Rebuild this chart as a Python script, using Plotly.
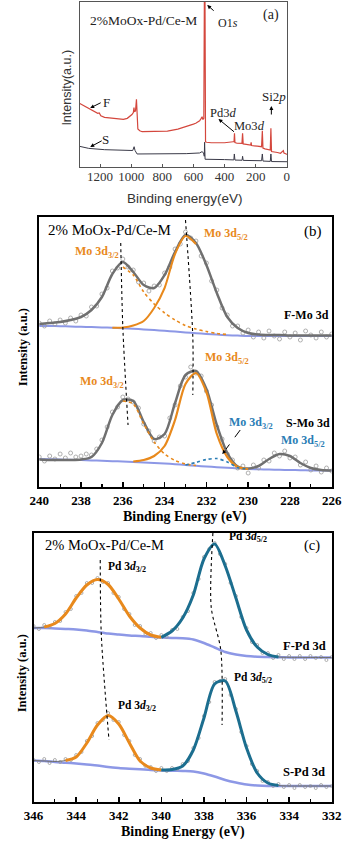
import numpy as np
import plotly.graph_objects as go

W, H = 354, 841
SERIF = "Liberation Serif, Times New Roman, serif"
SANS = "Liberation Sans, Arial, sans-serif"

RED = "#d4473d"
DARK = "#3a3a48"
ORANGE = "#e8891c"
TEAL = "#1c6e8f"
BLUE = "#2a7db5"
BG = "#8d98e6"
ENV = "#707070"
RAW = "#9c9c9c"

# ---------------- (a) survey ----------------
f_ev = [1330, 1300, 1273, 1250, 1232, 1215, 1205, 1195, 1171, 1140, 1111, 1080, 1050, 1025,
        1010, 995, 986, 982, 979, 972, 966, 962, 957, 945, 929, 850, 767, 700, 646, 600,
        585, 560, 550, 544, 540, 533, 529, 526, 522, 515, 485, 400, 345, 339, 336, 333,
        320, 288, 284, 280, 271, 232, 229, 226, 190, 162, 157, 153, 140, 106, 102, 98,
        60, 40, 22, 18, 0, -4]
f_cps = [38.5, 37, 35.6, 34.5, 33.5, 32.5, 32.8, 31, 30.1, 29.8, 29.5, 29.2, 28.9, 29.5,
         30.5, 31.8, 33, 36, 33.5, 34, 41, 34, 23, 22, 21.4, 21.6, 21.8, 23, 24.4, 26,
         26.5, 28, 29.5, 30.5, 28.8, 29.5, 115, 115, 15.3, 15, 14.7, 14.7, 15.3, 15.3, 20.4, 14.8,
         14.4, 14.3, 20.4, 14, 13.9, 13.3, 15, 13, 12.6, 12.3, 22, 11.5, 11, 10.3, 23.4, 9.4,
         8.8, 8.3, 9.9, 8.4, 7.7, 7.6]
s_ev = [1330, 1273, 1171, 1050, 990, 981, 975, 962, 900, 767, 646, 560, 545, 535, 530, 528,
        525, 400, 340, 337, 333, 287, 284, 280, 162, 157, 153, 106, 102, 98, -4]
s_cps = [12.5, 11.3, 10.5, 10.2, 10, 12.3, 10, 7.9, 7.9, 7.9, 8.1, 8.5, 9.3, 8.6, 6.5, 15,
         4.7, 4.5, 4.3, 7.9, 4.2, 4.1, 6.5, 4.0, 3.8, 7.9, 3.6, 3.4, 7.9, 3.3, 3.2]

# ---------------- (b) Mo 3d ----------------
mo_ev = np.linspace(240, 226, 29)
mo_raw_ev = np.linspace(240, 226, 57)

f_mo_bg = [161, 161, 160.8, 160.5, 160.2, 160, 159.6, 159.2, 158.8, 158.3, 157.6, 157, 156.2,
           155.4, 154.6, 153.8, 153, 152.4, 151.8, 151.4, 151, 151, 151, 151, 151, 151, 151, 151, 151]
f_mo_env = [163, 164, 165, 167, 170, 177, 190, 213, 225, 215, 202, 199, 212, 235, 252, 244,
            222, 194, 170, 159, 154, 152.5, 152, 152, 151.5, 151.5, 151.5, 151.5, 151.5]
f_mo_raw = [164, 161, 166, 163, 167, 164, 169, 166, 172, 171,
            180, 181, 193, 199, 216, 219, 228, 220, 217, 205,
            204, 196, 201, 202, 214, 220, 238, 243, 255, 249,
            246, 231, 224, 206, 197, 179, 172, 161, 161, 154,
            157, 150, 155, 149, 156, 151, 148, 155, 150, 154,
            147, 156, 152, 149, 155, 150, 153]
f_mo32_ev = [236, 235.5, 235, 234.5, 234, 233.5, 233, 232.5, 232, 231.5, 231]
f_mo32 = [220, 212, 195, 183, 174, 167, 161.5, 158, 155.5, 153.5, 152.5]
f_mo52_ev = [236.5, 236, 235.5, 235, 234.5, 234, 233.5, 233, 232.5]
f_mo52 = [159.2, 159.5, 161.5, 166, 179, 199, 233, 251, 243]

s_mo_bg = [28, 27.8, 27.5, 27.2, 27, 26.6, 26.2, 25.8, 25.5, 25, 24.5, 24, 23.5, 22.8, 22,
           21.2, 20.5, 19.8, 19.2, 18.6, 18, 17.7, 17.4, 17.2, 17, 16.8, 16.6, 16.5, 16.4]
s_mo_env = [27.5, 27, 27, 27, 27.5, 30, 44, 72, 87, 86, 65, 48, 53, 84, 112, 116, 98, 62,
            34, 20.5, 18.5, 21, 28, 33, 31, 24, 19, 17, 16.5]
s_mo_raw = [30, 26, 31, 28, 33, 29, 34, 30, 31, 33,
            32, 38, 47, 60, 75, 80, 90, 88, 85, 79,
            63, 56, 46, 50, 51, 69, 82, 101, 110, 120,
            114, 111, 96, 82, 60, 48, 33, 27, 19, 21,
            14, 22, 19, 27, 26, 34, 31, 36, 29, 30,
            22, 25, 17, 21, 15, 19, 16]
s_mo52_ev = [235.5, 235, 234.5, 234, 233.5, 233, 232.5, 232, 231.5, 231, 230.5, 230]
s_mo52 = [25.5, 27, 31, 41, 67, 103, 114, 95, 53, 30, 20, 18]
s_mo32_ev = [236, 235.5, 235, 234.5, 234, 233.5, 233, 232.5]
s_mo32 = [86, 83, 63, 45, 33, 26.5, 23, 21.5]
s_mo_sub_ev = [233, 232.5, 232, 231.5, 231, 230.5, 230]
s_mo_sub = [22, 24.5, 27.5, 28.5, 25, 19.5, 18]

guide_b1_ev = [236.1, 236.0, 235.75]
guide_b1 = [244, 160, 62]
guide_b2_ev = [233.0, 232.65, 232.65]
guide_b2 = [267, 150, 92]

# ---------------- (c) Pd 3d ----------------
pd_ev = np.linspace(346, 332, 29)
pd_raw_ev = np.linspace(346, 332, 57)

f_pd_bg = [174, 174, 173.5, 173, 172.5, 171.5, 170, 168.5, 167.5, 166.5, 166, 165.2, 164.5,
           164, 163.7, 162.5, 159, 154.5, 150, 147.5, 146, 145.3, 145, 144.7, 144.6, 144.5,
           144.5, 144.5, 144.5]
f_pd_env = [174, 175, 178.5, 188, 204, 217, 222.5, 217.5, 203, 186, 174, 167, 165, 171, 184,
            207, 243, 258, 236, 204, 172, 155, 147.5, 145, 144.7, 144.6, 144.5, 144.5, 144.5]
f_pd_raw = [176, 173, 177, 175, 180, 181, 190, 193, 206, 209,
            219, 219, 224, 220, 219, 209, 205, 193, 188, 177,
            176, 168, 169, 164, 167, 165, 172, 173, 185, 191,
            209, 223, 245, 253, 259, 248, 238, 219, 206, 185,
            174, 160, 157, 149, 149, 144, 147, 143, 146, 143,
            146, 143, 146, 144, 145, 142, 145]
f_pd32_ev = [345.5, 345, 344.5, 344, 343.5, 343, 342.5, 342, 341.5, 341, 340.5, 340]
f_pd32 = [175, 178.5, 188, 204, 217, 222.5, 217.5, 203, 186, 174, 167, 164.7]
f_pd52_ev = [340, 339.5, 339, 338.5, 338, 337.5, 337, 336.5, 336, 335.5, 335, 334.5]
f_pd52 = [164.7, 171, 184, 207, 243, 258, 236, 204, 172, 155, 147.5, 145]

s_pd_bg = [41.5, 41, 40, 39.3, 38.5, 37.5, 36.5, 35, 34, 33.3, 32.7, 32, 31.6, 31.3, 31, 30.5,
           28.5, 25.5, 22, 19.5, 17.5, 16.5, 16, 16, 16, 16, 16, 16, 16]
s_pd_env = [41.5, 41, 40.5, 41.5, 45, 59, 77, 86.5, 78, 59, 41, 34, 32, 32.5, 36, 52, 84, 118,
            121, 91, 54, 29, 19, 16.5, 16, 16, 16, 16, 16]
s_pd_raw = [42, 40, 43, 39, 42, 40, 43, 42, 47, 50,
            61, 66, 79, 82, 89, 82, 80, 67, 61, 47,
            43, 36, 35, 31, 34, 31, 34, 33, 38, 41,
            54, 64, 86, 100, 120, 121, 123, 107, 93, 70,
            56, 38, 31, 21, 20, 16, 18, 15, 17, 14,
            17, 15, 16, 14, 17, 15, 16]
s_pd32_ev = [344.5, 344, 343.5, 343, 342.5, 342, 341.5, 341, 340.5, 340]
s_pd32 = [41.5, 45, 59, 77, 86.5, 78, 59, 41, 34, 32]
s_pd52_ev = [340, 339.5, 339, 338.5, 338, 337.5, 337, 336.5, 336, 335.5, 335, 334.5]
s_pd52 = [32, 32.5, 36, 52, 84, 118, 121, 91, 54, 29, 19, 16.5]

guide_c1_ev = [342.87, 342.82, 342.46]
guide_c1 = [242, 167, 62]
guide_c2_ev = [337.58, 337.66, 337.21, 337.15]
guide_c2 = [269, 195, 152, 77]


def px(x):
    return x / W


def py(y):
    return 1 - y / H


fig = go.Figure()


def line(x, y, color, width, ax, dash=None, spline=True):
    fig.add_trace(go.Scatter(
        x=x, y=y, mode="lines", xaxis=ax[0], yaxis=ax[1],
        line=dict(color=color, width=width, dash=dash,
                  shape="spline" if spline else "linear", smoothing=0.8),
        hoverinfo="skip"))


def dots(x, y, size, ax):
    fig.add_trace(go.Scatter(
        x=x, y=y, mode="markers", xaxis=ax[0], yaxis=ax[1],
        marker=dict(symbol="circle-open", size=size, color=RAW, line=dict(width=0.8)),
        hoverinfo="skip"))


A = ("x", "y")
B = ("x2", "y2")
C = ("x3", "y3")

# (a)
line(s_ev, s_cps, DARK, 1, A, spline=False)
line(f_ev, f_cps, RED, 1.2, A, spline=False)

# (b)
line(mo_ev, f_mo_bg, BG, 2, B)
line(mo_ev, s_mo_bg, BG, 2, B)
dots(mo_raw_ev, f_mo_raw, 4, B)
dots(mo_raw_ev, s_mo_raw, 4, B)
line(mo_ev, f_mo_env, ENV, 2.5, B)
line(mo_ev, s_mo_env, ENV, 2.5, B)
line(f_mo32_ev, f_mo32, ORANGE, 1.6, B, dash="dot")
line(f_mo52_ev, f_mo52, ORANGE, 2, B)
line(s_mo32_ev, s_mo32, ORANGE, 1.6, B, dash="dot")
line(s_mo52_ev, s_mo52, ORANGE, 2.2, B)
line(s_mo_sub_ev, s_mo_sub, BLUE, 1.6, B, dash="dot")
line(guide_b1_ev, guide_b1, "black", 1.1, B, dash="dot")
line(guide_b2_ev, guide_b2, "black", 1.1, B, dash="dot")

# (c)
line(pd_ev, f_pd_bg, BG, 2.5, C)
line(pd_ev, s_pd_bg, BG, 2.5, C)
dots(pd_raw_ev, f_pd_raw, 3, C)
dots(pd_raw_ev, s_pd_raw, 3, C)
line(pd_ev, f_pd_env, ENV, 1, C)
line(pd_ev, s_pd_env, ENV, 1, C)
line(f_pd32_ev, f_pd32, ORANGE, 3, C)
line(f_pd52_ev, f_pd52, TEAL, 3, C)
line(s_pd32_ev, s_pd32, ORANGE, 3, C)
line(s_pd52_ev, s_pd52, TEAL, 3, C)
line(guide_c1_ev, guide_c1, "black", 1.1, C, dash="dot")
line(guide_c2_ev, guide_c2, "black", 1.1, C, dash="dot")

# axes
xa_bold = dict(
    showline=True, mirror=True, linecolor="black", linewidth=2, showgrid=False, zeroline=False,
    ticks="inside", ticklen=5, tickwidth=1.5, tickcolor="black", dtick=2,
    minor=dict(ticks="inside", ticklen=3, tickwidth=1.2, tickcolor="black", dtick=1),
    tickfont=dict(family=SERIF, size=13, color="black", weight="bold"),
    ticklabelstandoff=0)
ya_bold = dict(showline=True, mirror=True, linecolor="black", linewidth=2, showgrid=False,
               zeroline=False, showticklabels=False, ticks="")

fig.update_layout(
    width=W, height=H, autosize=False, showlegend=False,
    margin=dict(l=0, r=0, t=0, b=0),
    paper_bgcolor="white", plot_bgcolor="white",
    xaxis=dict(domain=[px(74), px(294)], range=[1330, -4], anchor="y",
               showline=True, mirror=True, linecolor="#555", linewidth=1, showgrid=False,
               zeroline=False, ticks="inside", ticklen=3, tickcolor="#555", dtick=200,
               tickfont=dict(family=SERIF, size=13, color="#333"), ticklabelstandoff=-3),
    yaxis=dict(domain=[py(167), py(2)], range=[0, 100], anchor="x",
               showline=True, mirror=True, linecolor="#555", linewidth=1, showgrid=False,
               zeroline=False, showticklabels=False),
    xaxis2=dict(domain=[px(31), px(341)], range=[240, 226], anchor="y2", **xa_bold),
    yaxis2=dict(domain=[py(487), py(217)], range=[0, 270], anchor="x2", **ya_bold),
    xaxis3=dict(domain=[px(25), px(341)], range=[346, 332], anchor="y3", **xa_bold),
    yaxis3=dict(domain=[py(802), py(533)], range=[0, 269], anchor="x3", **ya_bold),
)

ann = []


def label(x, y, text, size, color="black", family=SERIF, bold=False, xanchor="left", angle=0):
    ann.append(dict(x=px(x), y=py(y), xref="paper", yref="paper", text=text, showarrow=False,
                    xanchor=xanchor, yanchor="middle", textangle=angle,
                    font=dict(family=family, size=size, color=color,
                              weight="bold" if bold else "normal")))


def arrow(hx, hy, tx, ty, head=2):
    ann.append(dict(x=px(hx), y=py(hy), xref="paper", yref="paper", text="", showarrow=True,
                    ax=tx - hx, ay=ty - hy, arrowhead=head, arrowsize=0.8, arrowwidth=1,
                    arrowcolor="black"))


# (a) texts
label(83, 20, "2%MoOx-Pd/Ce-M", 13.5, "#222")
label(277, 15, "(a)", 14, "#222", xanchor="center")
label(218, 23, "O1<i>s</i>", 12, "#222")
label(102, 102, "F", 13, "#222", xanchor="center")
label(101, 139, "S", 13, "#222", xanchor="center")
label(210, 113, "Pd3<i>d</i>", 12.5, "#222")
label(235, 126, "Mo3<i>d</i>", 12.5, "#222")
label(265, 97, "Si2<i>p</i>", 13, "#222")
label(185, 198, "Binding energy(eV)", 13.5, "#333", family=SANS, xanchor="center")
label(60, 88, "Intensity(a.u.)", 12.5, "#333", family=SANS, xanchor="center", angle=-90)
arrow(209, 5, 217, 12)
arrow(85, 108, 97, 102)
arrow(85, 147, 98, 140)
arrow(221, 119, 238, 133)
arrow(277, 106, 277, 116)

# (b) texts
label(38, 230, "2% MoOx-Pd/Ce-M", 15)
label(321, 231, "(b)", 15, xanchor="center")
label(67, 252, "Mo 3d<sub>3/2</sub>", 12, ORANGE, bold=True)
label(203, 234, "Mo 3d<sub>5/2</sub>", 12, ORANGE, bold=True)
label(288, 315, "F-Mo 3d", 12, bold=True)
label(205, 358, "Mo 3d<sub>5/2</sub>", 12, ORANGE, bold=True)
label(72, 382, "Mo 3d<sub>3/2</sub>", 12, ORANGE, bold=True)
label(290, 423, "S-Mo 3d", 12, bold=True)
label(230, 423, "Mo 3d<sub>3/2</sub>", 12, BLUE, bold=True)
label(285, 441, "Mo 3d<sub>5/2</sub>", 12, BLUE, bold=True)
label(185, 517, "Binding Energy (eV)", 14, bold=True, xanchor="center")
label(14, 347, "Intensity (a.u.)", 12.5, bold=True, xanchor="center", angle=-90)
arrow(225, 454, 229, 449)

# (c) texts
label(35, 545, "2% MoOx-Pd/Ce-M", 14.5)
label(320, 545, "(c)", 14.5, xanchor="center")
label(230, 537, "Pd 3<i>d</i><sub>5/2</sub>", 11.5, bold=True)
label(102, 567, "Pd 3<i>d</i><sub>3/2</sub>", 11.5, bold=True)
label(287, 646, "F-Pd 3d", 12.5, bold=True)
label(235, 678, "Pd 3<i>d</i><sub>5/2</sub>", 11.5, bold=True)
label(112, 706, "Pd 3<i>d</i><sub>3/2</sub>", 11.5, bold=True)
label(287, 772, "S-Pd 3d", 12.5, bold=True)
label(183, 832, "Binding Energy (eV)", 14, bold=True, xanchor="center")
label(13, 673, "Intensity (a.u.)", 12.5, bold=True, xanchor="center", angle=-90)

fig.update_layout(
    annotations=ann,
    shapes=[dict(type="line", xref="paper", yref="paper", x0=px(244), y0=py(430),
                 x1=px(229), y1=py(449), line=dict(color="black", width=1, dash="dash"))])

# page body has a default 8px margin; drop it so the figure fills the window
fig.write_html("out.html", config={"displayModeBar": False, "staticPlot": True},
               post_script="document.body.style.margin='0';")
